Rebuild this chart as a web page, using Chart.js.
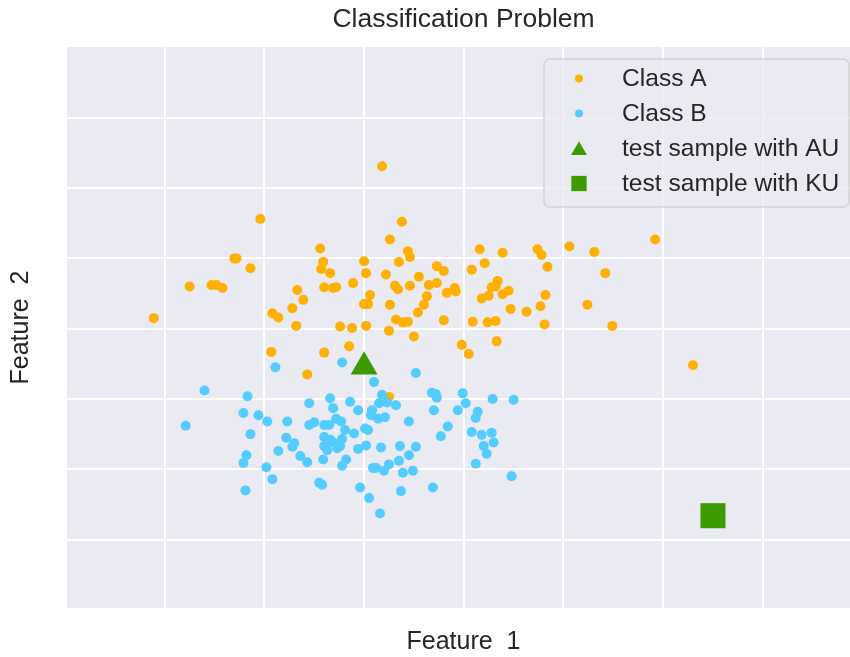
<!DOCTYPE html>
<html>
<head>
<meta charset="utf-8">
<script src="https://cdn.jsdelivr.net/npm/chart.js@4.4.1/dist/chart.umd.min.js"></script>
<style>
  html, body { margin: 0; padding: 0; background: #ffffff; overflow: hidden; }
  #wrap { width: 860px; height: 657px; }
</style>
</head>
<body>
<div id="wrap"><canvas id="myChart" width="860" height="657"></canvas></div>
<script>
const classAX = [-1.04,-0.44,-1.30,-1.28,-1.14,-0.41,-0.43,-0.34,-1.75,-1.53,-1.48,-1.42,-0.40,-0.31,-0.28,-0.67,-0.61,-2.11,-0.92,-0.86,
  -0.72,-0.68,-0.24,-0.93,-0.40,0.18,0.38,0.26,0.44,0.46,0.35,0.00,0.02,-0.11,0.22,0.31,0.34,0.46,0.55,0.65,
  0.73,0.80,0.73,0.83,0.91,0.92,0.63,0.60,0.54,0.06,0.00,0.04,0.26,0.32,0.39,0.44,0.80,-0.12,0.02,0.25,
  0.50,-0.15,0.98,1.08,1.16,1.21,1.39,1.34,1.28,1.32,1.45,1.39,1.25,1.18,1.47,1.63,1.09,1.24,1.32,1.33,
  2.92,1.74,1.78,2.06,2.31,1.84,2.42,1.82,1.77,2.24,1.81,2.49,3.30,-0.57,1.05,0.25];
const classAY = [2.56,2.14,2.00,2.00,1.86,1.95,1.85,1.79,1.60,1.62,1.62,1.58,1.59,1.58,1.59,1.55,1.41,1.15,1.22,1.16,
  1.29,1.04,1.03,0.67,0.66,3.31,2.52,2.27,2.10,2.02,1.95,1.96,1.79,1.65,1.77,1.61,1.56,1.61,1.74,1.62,
  1.89,1.82,1.65,1.51,1.58,1.53,1.46,1.34,1.23,1.48,1.35,1.35,1.34,1.13,1.09,1.10,1.12,1.01,1.04,0.97,
  0.89,0.75,0.77,1.84,2.13,1.93,2.08,1.68,1.59,1.60,1.54,1.49,1.47,1.43,1.28,1.24,1.10,1.09,1.11,0.82,
  2.27,2.13,2.05,2.17,2.09,1.88,1.79,1.48,1.32,1.34,1.06,1.04,0.48,0.35,0.64,0.03];

const classBX = [-0.89,-1.60,-1.17,-0.22,-1.21,-1.06,-0.97,-1.79,-1.14,-0.77,-0.55,-0.34,-0.31,-0.14,-0.06,-0.55,-0.50,-0.40,-0.35,-0.28,
  -0.23,-0.19,-0.10,-0.78,-0.70,-0.72,-0.86,-0.40,-0.34,-0.31,-0.22,-0.40,-0.37,-0.27,-0.24,-0.06,-1.18,-1.21,-0.64,-0.57,
  -0.41,-0.18,-0.22,-0.98,-0.92,-0.45,-0.42,-1.19,-0.04,0.52,0.10,0.18,0.15,0.23,0.32,0.08,0.07,0.14,0.21,0.68,
  0.72,0.73,0.70,0.99,1.02,1.29,1.50,0.94,1.14,1.12,0.45,0.84,0.77,1.08,1.18,1.28,1.20,1.30,1.23,0.01,
  0.04,0.02,0.17,0.36,0.52,0.45,0.35,0.25,0.09,0.12,0.20,0.39,0.49,1.12,1.48,0.05,0.37,0.69,0.16];
const classBY = [0.45,0.12,0.04,0.52,-0.20,-0.23,-0.32,-0.38,-0.50,-0.32,-0.06,0.01,-0.13,-0.04,-0.16,-0.37,-0.33,-0.37,-0.37,-0.28,
  -0.32,-0.44,-0.49,-0.55,-0.63,-0.68,-0.74,-0.54,-0.58,-0.62,-0.57,-0.67,-0.73,-0.70,-0.67,-0.71,-0.80,-0.91,-0.81,-0.90,
  -0.86,-0.86,-0.95,-0.97,-1.14,-1.19,-1.22,-1.30,-1.26,0.37,0.24,0.06,-0.06,-0.05,-0.09,-0.16,-0.23,-0.28,-0.26,0.09,
  0.07,0.02,-0.16,0.08,-0.06,0.00,-0.01,-0.16,-0.18,-0.27,-0.32,-0.39,-0.53,-0.47,-0.51,-0.48,-0.67,-0.62,-0.78,-0.42,
  -0.44,-0.66,-0.69,-0.67,-0.68,-0.80,-0.88,-0.93,-0.98,-0.98,-1.02,-1.05,-1.02,-0.92,-1.10,-1.41,-1.31,-1.26,-1.63];

const auX = [0.00];
const auY = [0.46];
const kuX = [3.50];
const kuY = [-1.66];

const xTicks = [-2, -1, 0, 1, 2, 3, 4];
const yTicks = [-2, -1, 0, 1, 2, 3, 4];

function toPoints(xs, ys) {
  return xs.map(function(x, i) { return {x: x, y: ys[i]}; });
}

const textColor = '#262626';
const fontFamily = '"Liberation Sans", Arial, sans-serif';

// grey plot background like seaborn darkgrid
const plotBg = {
  id: 'plotBg',
  beforeDraw: function(chart) {
    const a = chart.chartArea;
    const c = chart.ctx;
    c.save();
    c.fillStyle = '#eaeaf2';
    c.fillRect(a.left, a.top, a.right - a.left, a.bottom - a.top);
    c.restore();
  }
};

// framed legend in the upper right corner of the axes
const boxLegend = {
  id: 'boxLegend',
  afterDraw: function(chart) {
    const c = chart.ctx;
    const x0 = 544, y0 = 59, w = 305, h = 148;
    c.save();
    c.beginPath();
    c.roundRect(x0, y0, w, h, 6);
    c.fillStyle = 'rgba(234,234,242,0.8)';
    c.fill();
    c.lineWidth = 1.5;
    c.strokeStyle = 'rgba(204,204,204,0.8)';
    c.stroke();
    const rows = [78.5, 113.5, 148.5, 183.5];
    const sizes = [4, 4, 9.2, 10.8];
    chart.data.datasets.forEach(function(ds, i) {
      c.fillStyle = ds.backgroundColor;
      Chart.helpers.drawPoint(c, {pointStyle: ds.pointStyle, radius: sizes[i], borderWidth: 0, rotation: 0}, 579, rows[i] + (ds.pointStyle === 'triangle' ? 2 : 0));
      c.fillStyle = textColor;
      c.font = '24.6px ' + fontFamily;
      c.textBaseline = 'middle';
      c.textAlign = 'left';
      c.fillText(ds.label, 622, rows[i] + 1);
    });
    c.restore();
  }
};

var ctx = document.getElementById('myChart').getContext('2d');
var myChart = new Chart(ctx, {
  type: 'scatter',
  data: {
    datasets: [{
      label: 'Class A',
      data: toPoints(classAX, classAY),
      backgroundColor: '#ffb000',
      pointStyle: 'circle',
      pointRadius: 5,
      pointBorderWidth: 0,
      order: 4
    }, {
      label: 'Class B',
      data: toPoints(classBX, classBY),
      backgroundColor: '#55ccff',
      pointStyle: 'circle',
      pointRadius: 5,
      pointBorderWidth: 0,
      order: 3
    }, {
      label: 'test sample with AU',
      data: toPoints(auX, auY),
      backgroundColor: '#3d9b00',
      pointStyle: 'triangle',
      pointRadius: 15.5,
      pointBorderWidth: 0,
      order: 2
    }, {
      label: 'test sample with KU',
      data: toPoints(kuX, kuY),
      backgroundColor: '#3d9b00',
      pointStyle: 'rect',
      pointRadius: 17.7,
      pointBorderWidth: 0,
      order: 1
    }]
  },
  options: {
    responsive: false,
    animation: false,
    devicePixelRatio: 1,
    layout: { padding: 0, autoPadding: false },
    plugins: {
      legend: { display: false },
      tooltip: { enabled: false },
      title: {
        display: true,
        text: 'Classification Problem',
        fullSize: false,
        color: textColor,
        font: { family: fontFamily, size: 26.5, weight: 'normal' },
        padding: { top: 4, bottom: 11.2 }
      }
    },
    scales: {
      x: {
        type: 'linear',
        min: -2.98,
        max: 4.975,
        afterBuildTicks: function(axis) {
          axis.ticks = xTicks.map(function(v) { return {value: v}; });
        },
        ticks: { display: false },
        border: { display: false },
        grid: { color: '#ffffff', lineWidth: 2, drawTicks: false },
        title: {
          display: true,
          text: 'Feature  1',
          color: textColor,
          font: { family: fontFamily, size: 25 },
          padding: { top: 19, bottom: 0 }
        }
      },
      y: {
        type: 'linear',
        min: -2.973,
        max: 5.007,
        afterBuildTicks: function(axis) {
          axis.ticks = yTicks.map(function(v) { return {value: v}; });
        },
        ticks: { display: false },
        border: { display: false },
        grid: { color: '#ffffff', lineWidth: 2, drawTicks: false },
        title: {
          display: true,
          text: 'Feature  2',
          color: textColor,
          font: { family: fontFamily, size: 25 },
          padding: { top: 6, bottom: 31 }
        }
      }
    }
  },
  plugins: [plotBg, boxLegend]
});
</script>
</body>
</html>
